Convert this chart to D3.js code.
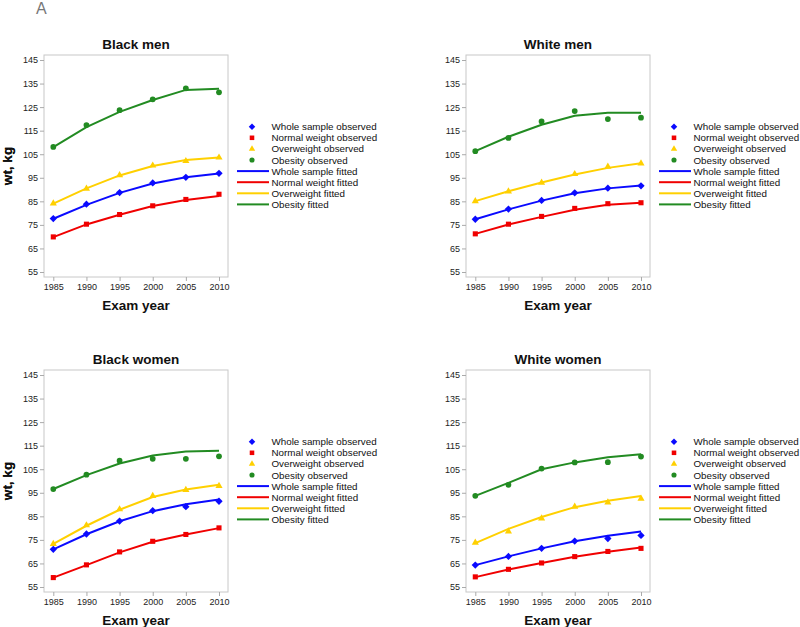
<!DOCTYPE html>
<meta charset="utf-8">
<style>
    body { margin: 0; background: #fff; }
    svg { font-family: "Liberation Sans", Arial, sans-serif; }
    .tick text { font-size: 9px; fill: #222; }
    .title, .axis-title { font-size: 13.5px; font-weight: bold; fill: #111; }
    .legend text { font-size: 9.8px; fill: #111; }
</style>
<body>
<script src="https://d3js.org/d3.v7.min.js"></script>
<script>
    var years = [1985, 1990, 1995, 2000, 2005, 2010];
    var yTicks = [55, 65, 75, 85, 95, 105, 115, 125, 135, 145];
    var groups = ["Whole sample", "Normal weight", "Overweight", "Obesity"];
    var colors = ["#0a0aff", "#f00000", "#ffd000", "#228b22"];

    // observed / fitted, order: whole, normal, overweight, obesity
    var blackMenObs = [
        [77.7, 83.8, 88.7, 92.8, 95.2, 96.9],
        [69.9, 75.3, 79.4, 83.1, 85.8, 88.0],
        [84.1, 90.4, 96.1, 100.2, 102.1, 103.6],
        [108.1, 117.4, 123.7, 128.3, 133.0, 131.3]
    ];
    var blackMenFit = [
        [77.6, 83.5, 88.6, 92.6, 95.2, 96.8],
        [69.8, 75.2, 79.3, 83.0, 85.6, 87.3],
        [84.0, 90.5, 96.0, 100.0, 102.5, 103.6],
        [108.0, 116.5, 123.0, 128.0, 132.3, 132.8]
    ];
    var whiteMenObs = [
        [77.4, 81.7, 85.4, 88.6, 90.6, 91.6],
        [71.2, 75.3, 78.6, 82.0, 84.0, 84.4],
        [85.1, 89.2, 92.9, 96.6, 99.7, 101.1],
        [106.3, 111.9, 118.9, 123.3, 119.9, 120.5]
    ];
    var whiteMenFit = [
        [77.4, 81.6, 85.3, 88.4, 90.5, 91.7],
        [71.2, 75.2, 78.4, 81.4, 83.5, 84.4],
        [85.1, 89.3, 93.0, 96.4, 99.2, 101.2],
        [106.3, 112.4, 117.5, 121.3, 122.6, 122.6]
    ];
    var blackWomenObs = [
        [71.0, 77.5, 83.0, 87.4, 89.1, 91.4],
        [59.0, 64.4, 69.9, 74.4, 77.3, 80.1],
        [73.3, 81.2, 88.0, 93.7, 96.2, 97.9],
        [96.6, 102.7, 108.6, 109.4, 109.4, 110.5]
    ];
    var blackWomenFit = [
        [71.0, 77.4, 82.9, 87.2, 90.1, 92.1],
        [59.0, 64.3, 69.7, 74.2, 77.3, 80.0],
        [73.3, 81.0, 87.8, 93.2, 96.4, 98.4],
        [96.6, 102.5, 107.4, 110.8, 112.5, 112.8]
    ];
    var whiteWomenObs = [
        [64.3, 68.0, 71.4, 74.5, 75.6, 76.9],
        [59.3, 62.5, 65.2, 67.9, 70.1, 71.4],
        [73.8, 78.6, 84.1, 89.1, 90.9, 92.5],
        [93.7, 98.4, 105.3, 107.9, 108.0, 110.4]
    ];
    var whiteWomenFit = [
        [64.3, 68.0, 71.4, 74.4, 76.8, 78.6],
        [59.2, 62.4, 65.2, 67.8, 70.0, 71.8],
        [73.6, 79.7, 84.7, 88.9, 91.6, 93.6],
        [93.7, 99.2, 105.0, 107.9, 110.1, 111.4]
    ];

    var panels = [
        {title: "Black men", obs: blackMenObs, fit: blackMenFit, left: 44, top: 55},
        {title: "White men", obs: whiteMenObs, fit: whiteMenFit, left: 466, top: 55},
        {title: "Black women", obs: blackWomenObs, fit: blackWomenFit, left: 44, top: 370},
        {title: "White women", obs: whiteWomenObs, fit: whiteWomenFit, left: 466, top: 370}
    ];

    var pw = 184, ph = 222;

    var svg = d3.select("body").append("svg")
        .attr("width", 800).attr("height", 627);

    svg.append("text")
        .attr("x", 36).attr("y", 14)
        .style("font-size", "16px").style("fill", "#777").style("font-weight", "300")
        .text("A");

    var symbols = [
        d3.symbol().type(d3.symbolDiamond2),
        d3.symbol().type(d3.symbolSquare),
        d3.symbol().type(d3.symbolTriangle),
        d3.symbol().type(d3.symbolCircle)
    ];
    var symSize = [34, 26, 22, 26];

    panels.forEach(function(p) {
        var g = svg.append("g").attr("transform", "translate(" + p.left + "," + p.top + ")");

        var x = d3.scaleLinear().domain([1985, 2010]).range([9.3, pw - 9]);
        var y = d3.scaleLinear().domain([55, 145]).range([ph - 5, 5]);

        g.append("rect")
            .attr("width", pw).attr("height", ph)
            .attr("fill", "none").attr("stroke", "#c8c8c8");

        var yAxis = g.append("g")
            .call(d3.axisLeft(y).tickValues(yTicks).tickSize(4).tickPadding(2));
        var xAxis = g.append("g").attr("transform", "translate(0," + ph + ")")
            .call(d3.axisBottom(x).tickValues(years).tickFormat(d3.format("d")).tickSize(4).tickPadding(3));
        [yAxis, xAxis].forEach(function(a) {
            a.select(".domain").remove();
            a.selectAll(".tick line").attr("stroke", "#aaa");
            a.attr("font-family", null).attr("font-size", null);
        });

        g.append("text").attr("class", "title")
            .attr("x", pw / 2).attr("y", -6.5).attr("text-anchor", "middle")
            .text(p.title);
        g.append("text").attr("class", "axis-title")
            .attr("x", pw / 2).attr("y", ph + 33).attr("text-anchor", "middle")
            .text("Exam year");
        g.append("text").attr("class", "axis-title")
            .attr("transform", "translate(" + (-p.left + 12) + "," + (ph / 2) + ") rotate(-90)")
            .attr("text-anchor", "middle")
            .text("wt, kg");

        var line = d3.line()
            .x(function(d, i) { return x(years[i]); })
            .y(function(d) { return y(d); });

        p.fit.forEach(function(vals, k) {
            g.append("path")
                .attr("d", line(vals))
                .attr("fill", "none")
                .attr("stroke", colors[k])
                .attr("stroke-width", 2);
        });

        p.obs.forEach(function(vals, k) {
            g.selectAll(null)
                .data(vals)
                .enter().append("path")
                .attr("d", symbols[k].size(symSize[k]))
                .attr("transform", function(d, i) { return "translate(" + x(years[i]) + "," + y(d) + ")"; })
                .attr("fill", colors[k]);
        });

        // legend
        var lg = g.append("g").attr("class", "legend")
            .attr("transform", "translate(" + pw + ",71.7)");
        var rowH = 11.1;
        groups.forEach(function(name, k) {
            lg.append("path")
                .attr("d", symbols[k].size(symSize[k] * 0.8))
                .attr("transform", "translate(24," + (k * rowH) + ")")
                .attr("fill", colors[k]);
            lg.append("text")
                .attr("x", 43.5).attr("y", k * rowH + 3.6)
                .text(name + " observed");
        });
        groups.forEach(function(name, k) {
            var yy = (k + 4) * rowH;
            lg.append("line")
                .attr("x1", 9).attr("x2", 41)
                .attr("y1", yy).attr("y2", yy)
                .attr("stroke", colors[k]).attr("stroke-width", 2);
            lg.append("text")
                .attr("x", 43.5).attr("y", yy + 3.6)
                .text(name + " fitted");
        });
    });
</script>
</body>
